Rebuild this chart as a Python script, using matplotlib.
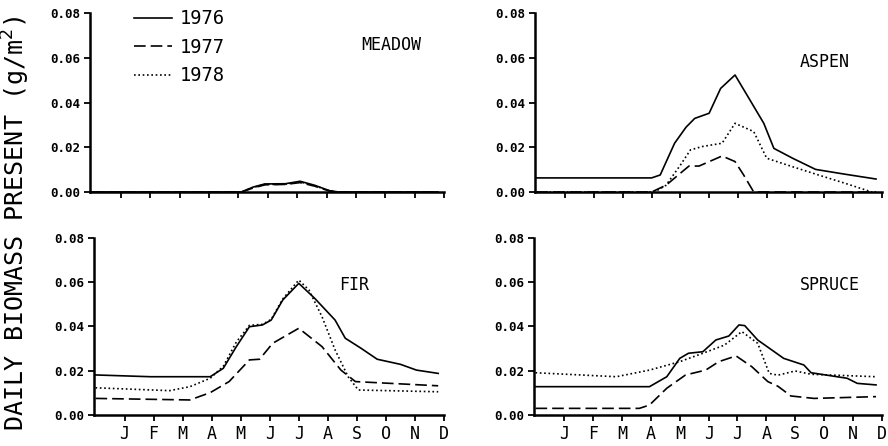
import numpy as np
import matplotlib
matplotlib.use("Agg")
import matplotlib.pyplot as plt

plt.rcParams['font.family'] = ['DejaVu Sans Mono']

months = ['J', 'F', 'M', 'A', 'M', 'J', 'J', 'A', 'S', 'O', 'N', 'D']
years = ['1976', '1977', '1978']
yticks = [0.00, 0.02, 0.04, 0.06, 0.08]

# MEADOW
meadow_x = [0, 5.1, 5.5, 5.9, 6.6, 7.1, 7.6, 8.1, 8.4, 11.8]
meadow_76 = [0, 0, 0.0022, 0.0036, 0.0037, 0.0048, 0.0030, 0.0006, 0, 0]
meadow_77 = [0, 0, 0.0018, 0.0032, 0.0034, 0.0042, 0.0026, 0.0004, 0, 0]
meadow_78 = [0, 0, 0.0020, 0.0034, 0.0035, 0.0045, 0.0028, 0.0005, 0, 0]

# ASPEN
aspen_76_x = [0, 4.0, 4.3, 4.8, 5.2, 5.5, 6.0, 6.4, 6.9, 7.35, 7.9, 8.25, 8.9, 9.7, 10.7, 11.8]
aspen_76 = [0.0063, 0.0063, 0.0076, 0.0218, 0.029, 0.0329, 0.0352, 0.0463, 0.0523, 0.0426,
            0.0307, 0.0195, 0.0151, 0.0101, 0.0080, 0.0058]
aspen_77_x = [0, 4.0, 4.5, 5.3, 5.65, 6.45, 6.9, 7.2, 7.55, 11.8]
aspen_77 = [0, 0, 0.003, 0.0116, 0.0116, 0.0161, 0.0136, 0.0076, 0, 0]
aspen_78_x = [0, 4.1, 4.5, 5.0, 5.35, 5.75, 6.45, 6.9, 7.55, 8.0, 8.9, 9.8, 10.7, 11.65, 11.8]
aspen_78 = [0, 0, 0.003, 0.012, 0.0188, 0.0203, 0.0218, 0.0307, 0.027, 0.0151, 0.0113,
            0.0076, 0.004, 0.0, 0.0]

# FIR
fir_76_x = [0, 1.9, 3.95, 4.4, 4.85, 5.3, 5.75, 6.05, 6.45, 7.0, 7.55, 8.25, 8.6, 9.15, 9.7, 10.5, 11.05, 11.8]
fir_76 = [0.0181, 0.0173, 0.0173, 0.0211, 0.0309, 0.0399, 0.0407, 0.0429, 0.052, 0.0595,
          0.0527, 0.0429, 0.0347, 0.0301, 0.0252, 0.0229, 0.0203, 0.0188]
fir_77_x = [0, 3.25, 3.95, 4.6, 5.3, 5.65, 6.1, 7.0, 7.8, 8.45, 8.95, 11.8]
fir_77 = [0.0075, 0.0068, 0.0101, 0.0151, 0.0249, 0.0252, 0.0324, 0.0392, 0.0309, 0.0203,
          0.0151, 0.0132]
fir_78_x = [0, 2.55, 3.25, 3.95, 4.4, 4.85, 5.3, 5.75, 6.05, 6.45, 7.0, 7.35, 7.8, 8.25, 8.7, 9.05, 11.8]
fir_78 = [0.0123, 0.011, 0.0128, 0.0166, 0.022, 0.033, 0.0405, 0.041, 0.0432, 0.0525, 0.061,
          0.0565, 0.0444, 0.0294, 0.0173, 0.0113, 0.0105]

# SPRUCE
spruce_76_x = [0, 3.95, 4.55, 5.0, 5.3, 5.8, 6.25, 6.7, 7.05, 7.25, 7.7, 8.6, 9.3, 9.55, 10.8, 11.15, 11.8]
spruce_76 = [0.0128, 0.0128, 0.0173, 0.0256, 0.0279, 0.0286, 0.0339, 0.0357, 0.0407, 0.0404,
             0.0339, 0.0256, 0.0226, 0.0191, 0.0166, 0.0143, 0.0136]
spruce_77_x = [0, 3.6, 3.95, 4.55, 5.2, 5.9, 6.35, 6.95, 7.5, 8.05, 8.4, 8.85, 9.65, 11.8]
spruce_77 = [0.003, 0.003, 0.0045, 0.0121, 0.0181, 0.0203, 0.0241, 0.0267, 0.0218, 0.0151,
             0.013, 0.0086, 0.0075, 0.0083]
spruce_78_x = [0, 2.8, 3.95, 5.0, 5.8, 6.55, 7.15, 7.7, 8.1, 8.4, 9.0, 9.55, 11.8]
spruce_78 = [0.0191, 0.0173, 0.0203, 0.0241, 0.0279, 0.0316, 0.0377, 0.0324, 0.0188, 0.018,
             0.0199, 0.0184, 0.0173]

styles = [dict(ls='-'), dict(dashes=(7, 3)), dict(dashes=(1, 1.6))]


def setup_panel(ax, name, tx, ty, show_months):
    for s in ['top', 'right']:
        ax.spines[s].set_visible(False)
    for s in ['left', 'bottom']:
        ax.spines[s].set_linewidth(1.8)
    ax.set_xlim(-0.05, 12)
    ax.set_ylim(0, 0.08)
    ax.set_xticks(range(1, 13))
    if show_months:
        ax.set_xticklabels(months, fontsize=12)
    else:
        ax.set_xticklabels([])
    ax.set_yticks(yticks)
    ax.set_yticklabels(['%.2f' % v for v in yticks], fontsize=9, fontweight='bold')
    ax.tick_params(axis='both', direction='out', length=4, width=1.3, pad=3)
    ax.text(tx, ty, name, fontsize=12, ha='center', va='center')


fig = plt.figure(figsize=(8.88, 4.46), dpi=100)
ax_meadow = fig.add_axes([0.1014, 0.5695, 0.3986, 0.4013])
ax_aspen = fig.add_axes([0.6025, 0.5695, 0.3905, 0.4013])
ax_fir = fig.add_axes([0.1059, 0.0695, 0.3941, 0.3969])
ax_spruce = fig.add_axes([0.6014, 0.0695, 0.3916, 0.3969])

for y, st, lab in zip([meadow_76, meadow_77, meadow_78], styles, years):
    ax_meadow.plot(meadow_x, y, color='black', lw=1.2, label=lab, **st)

panels = [
    (ax_aspen, [aspen_76_x, aspen_77_x, aspen_78_x], [aspen_76, aspen_77, aspen_78]),
    (ax_fir, [fir_76_x, fir_77_x, fir_78_x], [fir_76, fir_77, fir_78]),
    (ax_spruce, [spruce_76_x, spruce_77_x, spruce_78_x], [spruce_76, spruce_77, spruce_78]),
]
for ax, xs, ys in panels:
    for x, y, st in zip(xs, ys, styles):
        ax.plot(x, y, color='black', lw=1.2, **st)

setup_panel(ax_meadow, 'MEADOW', 10.2, 0.0657, False)
setup_panel(ax_aspen, 'ASPEN', 10.0, 0.058, False)
setup_panel(ax_fir, 'FIR', 8.9, 0.0588, True)
setup_panel(ax_spruce, 'SPRUCE', 10.2, 0.0588, True)

ax_meadow.legend(loc='upper left', bbox_to_anchor=(0.125, 1.02), frameon=False,
                 fontsize=13.5, handlelength=2.0, handletextpad=0.4, labelspacing=0.5,
                 borderpad=0, borderaxespad=0)

fig.text(0.018, 0.5, 'DAILY BIOMASS PRESENT (g/m$^2$)', rotation=90,
         fontsize=18, ha='center', va='center')

fig.savefig('out.png', dpi=100)
